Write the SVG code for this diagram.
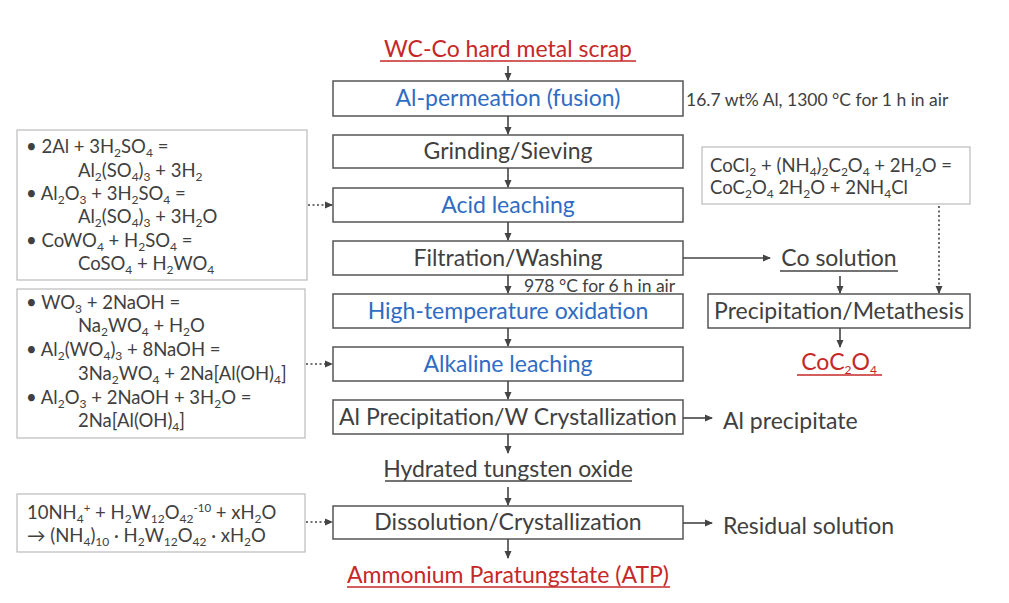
<svg xmlns="http://www.w3.org/2000/svg" width="1009" height="603" viewBox="0 0 1009 603">
<defs>
<marker id="ah" markerWidth="8" markerHeight="8" refX="7" refY="4" orient="auto" markerUnits="userSpaceOnUse">
<path d="M0,0.5 L8,4 L0,7.5 z" fill="#444"/>
</marker>
<style>
text{font-family:Lato,"Open Sans","Liberation Sans",sans-serif;fill:#404040}
.box{fill:#fff;stroke:#555;stroke-width:1.5}
.ebox{fill:#fff;stroke:#bbb;stroke-width:1.2}
.lbl{font-size:23px;text-anchor:middle}
.big{font-size:23px}
.blue{fill:#2f6cc4}
.red{fill:#c62828}
.eq{font-size:18.5px}
.note{font-size:17.5px}
.s{font-size:12px;baseline-shift:-3.5px}
.p{font-size:11.5px;baseline-shift:7px}
.conn line{stroke:#444;stroke-width:1.6;fill:none}
.dot{stroke-dasharray:2 2.5}
.ul{stroke-width:1.4}
</style>
</defs>
<rect width="1009" height="603" fill="#fff"/>

<g id="scrap">
<text class="lbl red" x="508" y="57">WC-Co hard metal scrap</text>
<line class="ul" x1="380" y1="61" x2="636" y2="61" stroke="#c62828"/>
</g>
<g id="n1"><rect class="box" x="333" y="81" width="350" height="35"/><text class="lbl blue" x="508" y="106">Al-permeation (fusion)</text></g>
<g id="n1note"><text class="note" x="686" y="106">16.7 wt% Al, 1300 °C for 1 h in air</text></g>
<g id="n2"><rect class="box" x="333" y="135" width="350" height="33"/><text class="lbl" x="508" y="159">Grinding/Sieving</text></g>
<g id="n3"><rect class="box" x="333" y="188" width="350" height="34"/><text class="lbl blue" x="508" y="213">Acid leaching</text></g>
<g id="n4"><rect class="box" x="333" y="241" width="350" height="34"/><text class="lbl" x="508" y="266">Filtration/Washing</text></g>
<g id="n4note"><text class="note" x="524" y="292">978 °C for 6 h in air</text></g>
<g id="n5"><rect class="box" x="333" y="294" width="350" height="34"/><text class="lbl blue" x="508" y="319">High-temperature oxidation</text></g>
<g id="n6"><rect class="box" x="333" y="347" width="350" height="34"/><text class="lbl blue" x="508" y="372">Alkaline leaching</text></g>
<g id="n7"><rect class="box" x="333" y="400" width="350" height="34"/><text class="lbl" x="508" y="425">Al Precipitation/W Crystallization</text></g>
<g id="hto">
<text class="lbl" x="508" y="477">Hydrated tungsten oxide</text>
<line class="ul" x1="385" y1="481" x2="632" y2="481" stroke="#444"/>
</g>
<g id="n8"><rect class="box" x="333" y="506" width="350" height="33"/><text class="lbl" x="508" y="530">Dissolution/Crystallization</text></g>
<g id="atp">
<text class="lbl red" x="508" y="583">Ammonium Paratungstate (ATP)</text>
<line class="ul" x1="347" y1="587" x2="670" y2="587" stroke="#c62828"/>
</g>

<g id="eq1">
<rect class="ebox" x="17" y="130" width="290" height="150"/>
<text class="eq" x="26" y="153">• 2Al + 3H<tspan class="s">2</tspan>SO<tspan class="s">4</tspan> =</text>
<text class="eq" x="78" y="177">Al<tspan class="s">2</tspan>(SO<tspan class="s">4</tspan>)<tspan class="s">3</tspan> + 3H<tspan class="s">2</tspan></text>
<text class="eq" x="26" y="200">• Al<tspan class="s">2</tspan>O<tspan class="s">3</tspan> + 3H<tspan class="s">2</tspan>SO<tspan class="s">4</tspan> =</text>
<text class="eq" x="78" y="223">Al<tspan class="s">2</tspan>(SO<tspan class="s">4</tspan>)<tspan class="s">3</tspan> + 3H<tspan class="s">2</tspan>O</text>
<text class="eq" x="26" y="247">• CoWO<tspan class="s">4</tspan> + H<tspan class="s">2</tspan>SO<tspan class="s">4</tspan> =</text>
<text class="eq" x="78" y="270">CoSO<tspan class="s">4</tspan> + H<tspan class="s">2</tspan>WO<tspan class="s">4</tspan></text>
</g>
<g id="eq2">
<rect class="ebox" x="17" y="289" width="288" height="149"/>
<text class="eq" x="26" y="309">• WO<tspan class="s">3</tspan> + 2NaOH =</text>
<text class="eq" x="78" y="332">Na<tspan class="s">2</tspan>WO<tspan class="s">4</tspan> + H<tspan class="s">2</tspan>O</text>
<text class="eq" x="26" y="356">• Al<tspan class="s">2</tspan>(WO<tspan class="s">4</tspan>)<tspan class="s">3</tspan> + 8NaOH =</text>
<text class="eq" x="78" y="380">3Na<tspan class="s">2</tspan>WO<tspan class="s">4</tspan> + 2Na[Al(OH)<tspan class="s">4</tspan>]</text>
<text class="eq" x="26" y="404">• Al<tspan class="s">2</tspan>O<tspan class="s">3</tspan> + 2NaOH + 3H<tspan class="s">2</tspan>O =</text>
<text class="eq" x="78" y="427">2Na[Al(OH)<tspan class="s">4</tspan>]</text>
</g>
<g id="eq3">
<rect class="ebox" x="17" y="494" width="288" height="58"/>
<text class="eq" x="27" y="519">10NH<tspan class="s">4</tspan><tspan class="p">+</tspan> + H<tspan class="s">2</tspan>W<tspan class="s">12</tspan>O<tspan class="s">42</tspan><tspan class="p">-10</tspan> + xH<tspan class="s">2</tspan>O</text>
<text class="eq" x="27" y="542">→ (NH<tspan class="s">4</tspan>)<tspan class="s">10</tspan> · H<tspan class="s">2</tspan>W<tspan class="s">12</tspan>O<tspan class="s">42</tspan> · xH<tspan class="s">2</tspan>O</text>
</g>
<g id="eq4">
<rect class="ebox" x="702" y="147" width="268" height="57"/>
<text class="eq" x="710" y="172">CoCl<tspan class="s">2</tspan> + (NH<tspan class="s">4</tspan>)<tspan class="s">2</tspan>C<tspan class="s">2</tspan>O<tspan class="s">4</tspan> + 2H<tspan class="s">2</tspan>O =</text>
<text class="eq" x="710" y="194">CoC<tspan class="s">2</tspan>O<tspan class="s">4</tspan> 2H<tspan class="s">2</tspan>O + 2NH<tspan class="s">4</tspan>Cl</text>
</g>
<g id="cosol">
<text class="lbl" x="839" y="266">Co solution</text>
<line class="ul" x1="780" y1="271" x2="898" y2="271" stroke="#444"/>
</g>
<g id="n9"><rect class="box" x="708" y="294" width="262" height="34"/><text class="lbl" x="839" y="319">Precipitation/Metathesis</text></g>
<g id="coc2o4">
<text class="lbl red" x="839" y="370">CoC<tspan class="s">2</tspan>O<tspan class="s">4</tspan></text>
<line class="ul" x1="797" y1="375" x2="882" y2="375" stroke="#c62828"/>
</g>
<g id="alppt"><text class="big" x="723" y="429">Al precipitate</text></g>
<g id="resid"><text class="big" x="723" y="534">Residual solution</text></g>

<g class="conn">
<line x1="508" y1="66" x2="508" y2="80" marker-end="url(#ah)"/>
<line x1="508" y1="116" x2="508" y2="134" marker-end="url(#ah)"/>
<line x1="508" y1="168" x2="508" y2="187" marker-end="url(#ah)"/>
<line x1="508" y1="222" x2="508" y2="240" marker-end="url(#ah)"/>
<line x1="508" y1="275" x2="508" y2="293" marker-end="url(#ah)"/>
<line x1="508" y1="328" x2="508" y2="346" marker-end="url(#ah)"/>
<line x1="508" y1="381" x2="508" y2="399" marker-end="url(#ah)"/>
<line x1="508" y1="434" x2="508" y2="453" marker-end="url(#ah)"/>
<line x1="508" y1="487" x2="508" y2="505" marker-end="url(#ah)"/>
<line x1="508" y1="539" x2="508" y2="558" marker-end="url(#ah)"/>
<line x1="683" y1="258" x2="770" y2="258" marker-end="url(#ah)"/>
<line x1="840" y1="276" x2="840" y2="293" marker-end="url(#ah)"/>
<line class="dot" x1="939" y1="206" x2="939" y2="293" marker-end="url(#ah)"/>
<line x1="840" y1="328" x2="840" y2="347" marker-end="url(#ah)"/>
<line x1="683" y1="418" x2="712" y2="418" marker-end="url(#ah)"/>
<line x1="683" y1="523" x2="712" y2="523" marker-end="url(#ah)"/>
<line class="dot" x1="308" y1="205" x2="332" y2="205" marker-end="url(#ah)"/>
<line class="dot" x1="306" y1="364" x2="332" y2="364" marker-end="url(#ah)"/>
<line class="dot" x1="306" y1="522" x2="332" y2="522" marker-end="url(#ah)"/>
</g>
</svg>
